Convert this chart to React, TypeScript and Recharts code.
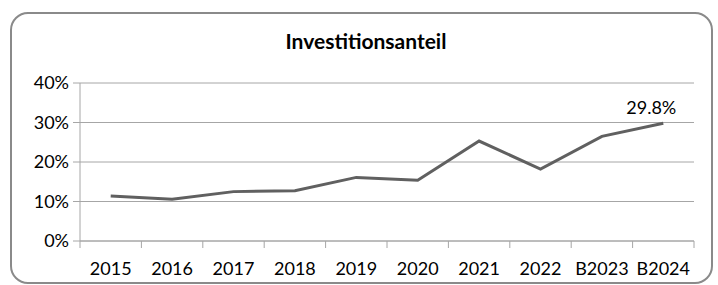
import React from 'react';
import { LineChart, Line, XAxis, YAxis, CartesianGrid, LabelList } from 'recharts';

const categories = ['2015', '2016', '2017', '2018', '2019', '2020', '2021', '2022', 'B2023', 'B2024'];
const shares = [11.4, 10.6, 12.5, 12.7, 16.1, 15.4, 25.3, 18.2, 26.5, 29.8];
const yTicks = [0, 10, 20, 30, 40];

const data = categories.map((c, i) => ({ year: c, share: shares[i] }));

const FONT = 'Lato, "Open Sans", sans-serif';
const GRID = '#a6a6a6';
const TICK_MARGIN = 21;
const TICK_LEN = 7;

const LastLabel = (props: any) => {
  const { x, y, index, value } = props;
  if (index !== shares.length - 1) return null;
  return (
    <text x={x - 12} y={y - 9} textAnchor="middle" fontSize={18} fill="#000" fontFamily={FONT}>
      {value.toFixed(1)}%
    </text>
  );
};

const CategoryTick = (props: any) => {
  const { x, y, payload, index } = props;
  const half = payload && payload.offset ? payload.offset : 0;
  const axisY = y - TICK_MARGIN;
  const isLast = index === categories.length - 1;
  return (
    <g>
      <line x1={x - half} x2={x - half} y1={axisY} y2={axisY + TICK_LEN} stroke={GRID} />
      {isLast && <line x1={x + half} x2={x + half} y1={axisY} y2={axisY + TICK_LEN} stroke={GRID} />}
      <text x={x} y={y} dy="0.71em" textAnchor="middle" fontSize={18} fill="#000" fontFamily={FONT}>
        {payload.value}
      </text>
    </g>
  );
};

export default function App() {
  return (
    <div style={{ position: 'absolute', left: 0, top: 0, width: 718, height: 285, background: '#fff' }}>
      <div
        style={{
          position: 'absolute',
          left: 10,
          top: 12,
          width: 703,
          height: 272,
          border: '2px solid #8a8a8a',
          borderRadius: 18,
          boxSizing: 'border-box',
        }}
      />
      <div
        style={{
          position: 'absolute',
          left: 0,
          top: 29,
          width: 732,
          textAlign: 'center',
          fontFamily: FONT,
          fontWeight: 'bold',
          fontSize: 21,
          color: '#000',
          lineHeight: '24px',
        }}
      >
        Investitionsanteil
      </div>
      <div style={{ position: 'absolute', left: 0, top: 0 }}>
        <LineChart width={718} height={285} data={data} margin={{ top: 83, right: 24, bottom: 0, left: 0 }}>
          <CartesianGrid horizontal vertical={false} stroke={GRID} strokeWidth={1} />
          <XAxis
            dataKey="year"
            scale="band"
            tickLine={false}
            tickSize={0}
            tickMargin={TICK_MARGIN}
            axisLine={{ stroke: GRID }}
            tick={<CategoryTick />}
            height={44}
            interval={0}
          />
          <YAxis
            domain={[0, 40]}
            ticks={yTicks}
            tickFormatter={(v: number) => `${v}%`}
            width={80}
            tickSize={7}
            tickMargin={4}
            tickLine={{ stroke: GRID }}
            axisLine={{ stroke: GRID }}
            tick={{ fontSize: 18, fill: '#000', fontFamily: FONT }}
          />
          <Line
            dataKey="share"
            stroke="#606060"
            strokeWidth={3}
            dot={false}
            isAnimationActive={false}
          >
            <LabelList dataKey="share" content={<LastLabel />} />
          </Line>
        </LineChart>
      </div>
    </div>
  );
}
